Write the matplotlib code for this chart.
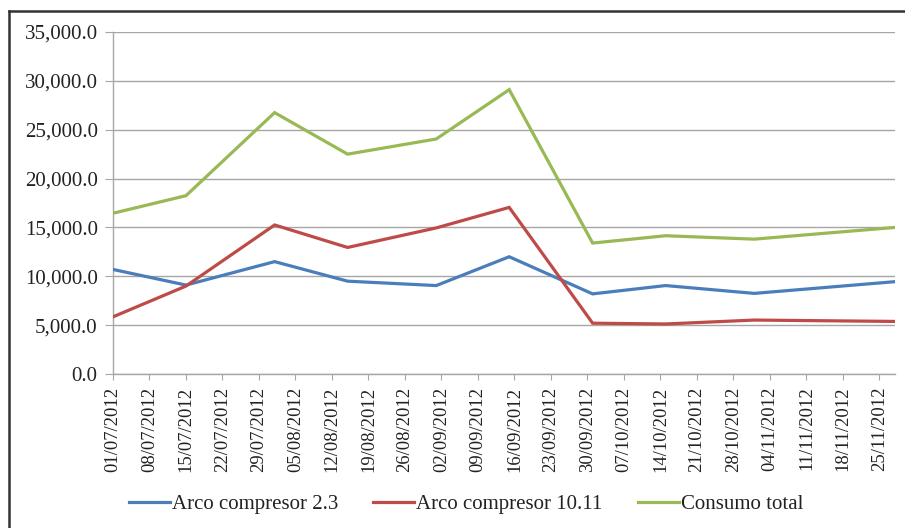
import matplotlib
matplotlib.use("Agg")
import matplotlib.pyplot as plt
import matplotlib.dates as mdates
from matplotlib.lines import Line2D
from matplotlib.ticker import FuncFormatter, MultipleLocator
import datetime as dt

plt.rcParams['font.family'] = ['Liberation Serif', 'DejaVu Serif']

dates = ["01/07/2012", "15/07/2012", "01/08/2012", "15/08/2012", "01/09/2012",
         "15/09/2012", "01/10/2012", "15/10/2012", "01/11/2012", "28/11/2012"]
arco_23 = [10700, 9100, 11500, 9500, 9050, 12000, 8200, 9050, 8250, 9450]
arco_1011 = [5850, 9000, 15250, 12950, 14950, 17050, 5200, 5120, 5520, 5380]
consumo_total = [16450, 18250, 26750, 22500, 24050, 29100, 13400, 14150, 13800, 15000]
series_names = ["Arco compresor 2.3", "Arco compresor 10.11", "Consumo total"]
tick_start = "01/07/2012"
tick_end = "25/11/2012"

colors = ["#4A7EBB", "#BE4B48", "#98B954"]

x = [dt.datetime.strptime(d, "%d/%m/%Y") for d in dates]
W, H = 905, 528
fig = plt.figure(figsize=(W / 100, H / 100), dpi=100)
ax = fig.add_axes([113 / W, 1 - 374 / H, (895 - 113) / W, (374 - 32) / H])

handles = []
for vals, c, name in zip([arco_23, arco_1011, consumo_total], colors, series_names):
    h, = ax.plot(x, vals, color=c, lw=2.3, label=name, solid_joinstyle='miter', zorder=3)
    handles.append(h)

ax.set_ylim(0, 35000)
ax.yaxis.set_major_locator(MultipleLocator(5000))
ax.yaxis.set_major_formatter(FuncFormatter(lambda v, p: f"{v:,.1f}"))
ax.set_xlim(x[0], x[-1])
t0 = dt.datetime.strptime(tick_start, "%d/%m/%Y")
t1 = dt.datetime.strptime(tick_end, "%d/%m/%Y")
ticks = []
t = t0
while t <= t1:
    ticks.append(t)
    t += dt.timedelta(days=7)
ax.set_xticks(ticks)
ax.xaxis.set_major_formatter(mdates.DateFormatter("%d/%m/%Y"))
for lab in ax.get_xticklabels():
    lab.set_rotation(90)

ax.grid(axis='y', color='#A6A6A6', lw=1.0)
ax.set_axisbelow(True)
for s in ['top', 'right']:
    ax.spines[s].set_visible(False)
for s in ['left', 'bottom']:
    ax.spines[s].set_color('#A6A6A6')
    ax.spines[s].set_linewidth(1.0)
ax.tick_params(axis='y', length=6, color='#A6A6A6', labelsize=15, pad=5, labelcolor='#222222')
ax.tick_params(axis='x', length=4, color='#A6A6A6', labelsize=13.4, pad=5, labelcolor='#222222')

# outer chart frame
fig.add_artist(Line2D([9 / W, 9 / W], [0, 1 - 11 / H], color='#333333', lw=1.8, transform=fig.transFigure))
fig.add_artist(Line2D([9 / W, 1], [1 - 11 / H, 1 - 11 / H], color='#333333', lw=1.8, transform=fig.transFigure))

# legend entries
leg_x = [129, 373, 638]
for h, lx in zip(handles, leg_x):
    lg = fig.legend(handles=[h], loc='center left', bbox_to_anchor=(lx / W, 1 - 504 / H),
                    frameon=False, borderpad=0, borderaxespad=0, handlelength=1.95,
                    handletextpad=0.1, fontsize=15)
    for txt in lg.get_texts():
        txt.set_color('#222222')

fig.savefig("out.png", dpi=100)
